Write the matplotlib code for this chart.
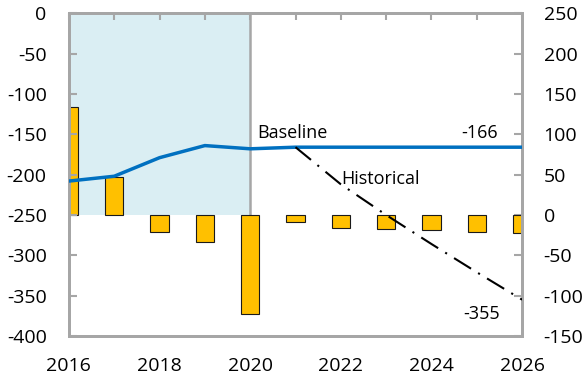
import matplotlib
matplotlib.use("Agg")
import matplotlib.pyplot as plt
from matplotlib.ticker import FixedLocator, FuncFormatter

plt.rcParams["font.family"] = ["Open Sans", "DejaVu Sans"]
plt.rcParams["axes.unicode_minus"] = False

# Annual balance (bars, right axis)
years = list(range(2016, 2027))
balance = [134, 47, -21, -33, -123, -9, -16, -18, -19, -21, -22]

# Debt paths (lines, left axis)
baseline = [-208, -202, -179, -164, -168, -166, -166, -166, -166, -166, -166]
hist_years = [2021, 2022, 2023, 2024, 2025, 2026]
historical = [-166, -212, -250, -286, -321, -355]

# Shaded history window
shade_start, shade_end = 2016, 2020
shade_low, shade_high = 0, 250  # right-axis units

left_ticks = list(range(-400, 1, 50))
right_ticks = list(range(-150, 251, 50))

GRAY = "#A6A6A6"
BLUE = "#0070C0"
YELLOW = "#FFC000"
TICK_FS = 14

fig = plt.figure(figsize=(5.84, 3.79), dpi=100)
ax = fig.add_axes([0.118, 0.1135, 0.776, 0.8515])  # bars, right scale
ax2 = ax.twinx()                                   # lines, left scale

# right-scale axis (bars, shading)
ax.fill_between([shade_start, shade_end], shade_low, shade_high,
                color="#DAEEF3", lw=0, zorder=0)
ax.plot([shade_end, shade_end], [shade_low, shade_high], color=GRAY, lw=1.8, zorder=1)
ax.bar(years, balance, width=0.4, color=YELLOW, edgecolor="#1a1a1a",
       linewidth=0.8, zorder=2)
ax.set_xlim(2016, 2026)
ax.set_ylim(-150, 250)
ax.yaxis.tick_right()
ax.yaxis.set_label_position("right")
ax.yaxis.set_major_locator(FixedLocator(right_ticks))
ax.yaxis.set_major_formatter(FuncFormatter(lambda v, p: f"{int(v)}"))

# left-scale axis (lines)
ax2.plot(years, baseline, color=BLUE, lw=2.5, solid_capstyle="butt", zorder=3)
ax2.plot(hist_years, historical, color="black", lw=1.5,
         dashes=(9.6, 4.0, 1.0, 4.0), zorder=3)
ax2.set_ylim(-400, 0)
ax2.yaxis.tick_left()
ax2.yaxis.set_label_position("left")
ax2.yaxis.set_major_locator(FixedLocator(left_ticks))
ax2.yaxis.set_major_formatter(FuncFormatter(lambda v, p: f"{int(v)}"))

# x axis: ticks on the top spine every year, labels every two years at bottom
ax.xaxis.set_major_locator(FixedLocator(years))
ax.xaxis.set_major_formatter(FuncFormatter(lambda v, p: f"{int(v)}" if int(round(v)) % 2 == 0 else ""))
ax.tick_params(axis="x", top=True, bottom=False, labeltop=False, labelbottom=True,
               direction="in", length=5, width=1.5, color=GRAY, labelsize=TICK_FS, pad=15)
ax.tick_params(axis="y", direction="in", length=6, width=1.5, color=GRAY,
               labelsize=TICK_FS, pad=15.5)
ax2.tick_params(axis="y", direction="in", length=6, width=1.5, color=GRAY,
                labelsize=TICK_FS, pad=16)

for a in (ax, ax2):
    for s in a.spines.values():
        s.set_color(GRAY)
        s.set_linewidth(2)

# annotations
ax2.text(2020.15, -148, "Baseline", fontsize=13, va="center", ha="left", zorder=4)
ax2.text(2022.0, -206, "Historical", fontsize=13, va="center", ha="left", zorder=4)
ax2.text(2025.47, -148, f"{baseline[-1]}", fontsize=13, va="center", ha="right", zorder=4)
ax2.text(2025.5, -373, f"{historical[-1]}", fontsize=13, va="center", ha="right", zorder=4)

fig.savefig("out.png", dpi=100)
